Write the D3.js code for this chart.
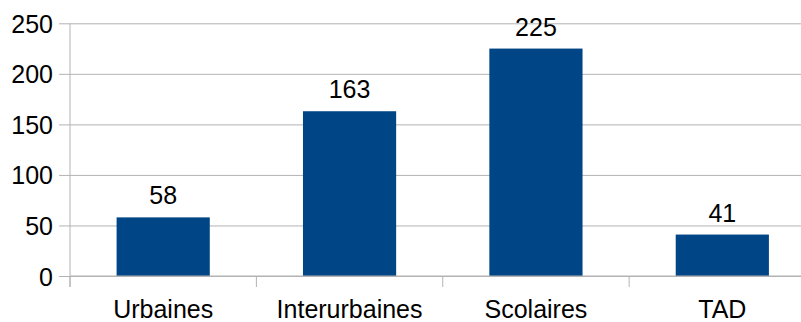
<!DOCTYPE html>
<html>
<head>
<meta charset="utf-8">
<script src="https://cdn.jsdelivr.net/npm/d3@7"></script>
<style>
  body { margin: 0; background: #fff; }
  svg { display: block; font-family: "Liberation Sans", Arial, sans-serif; }
</style>
</head>
<body>
<svg id="chart"></svg>
<script>
var width = 801;
var height = 322;

var categories = ['Urbaines', 'Interurbaines', 'Scolaires', 'TAD'];
var values = [58, 163, 225, 41];
var yTicks = [0, 50, 100, 150, 200, 250];

var plotLeft = 70, plotRight = 815.5;
var plotTop = 23.3, plotBottom = 276;
var fontSize = '25px';

var svg = d3.select('#chart')
  .attr('width', width)
  .attr('height', height);

var xScale = d3.scaleBand()
  .domain(categories)
  .range([plotLeft, plotRight])
  .paddingInner(0.5)
  .paddingOuter(0.25);

var yScale = d3.scaleLinear()
  .domain([0, 250])
  .range([plotBottom, plotTop]);

// gridlines + y axis
var yAxis = svg.append('g')
  .attr('transform', `translate(${plotLeft}, 0)`)
  .call(d3.axisLeft(yScale)
    .tickValues(yTicks)
    .tickSize(11)
    .tickSizeOuter(0));

yAxis.select('.domain').remove();
yAxis.selectAll('.tick line')
  .attr('x2', width - plotLeft)
  .attr('x1', -11)
  .attr('stroke', '#b3b3b3');
yAxis.selectAll('.tick text')
  .attr('x', -17)
  .attr('dy', '0.36em')
  .style('font-size', fontSize)
  .style('font-family', '"Liberation Sans", Arial, sans-serif')
  .style('fill', '#000');

svg.append('line')
  .attr('x1', plotLeft).attr('x2', plotLeft)
  .attr('y1', plotTop).attr('y2', plotBottom + 11)
  .attr('stroke', '#b3b3b3');

// bars
svg.selectAll('rect.bar')
  .data(values)
  .enter()
  .append('rect')
    .attr('class', 'bar')
    .attr('x', (d, i) => xScale(categories[i]))
    .attr('y', d => yScale(d))
    .attr('width', xScale.bandwidth())
    .attr('height', d => plotBottom - yScale(d))
    .attr('fill', '#004586');

// x axis
var step = xScale.step();
var xTicks = d3.range(categories.length + 1).map(i => plotLeft + i * step);
svg.append('line')
  .attr('x1', plotLeft).attr('x2', width)
  .attr('y1', plotBottom).attr('y2', plotBottom)
  .attr('stroke', '#b3b3b3');
svg.selectAll('line.xtick')
  .data(xTicks)
  .enter()
  .append('line')
    .attr('class', 'xtick')
    .attr('x1', d => d).attr('x2', d => d)
    .attr('y1', plotBottom).attr('y2', plotBottom + 11)
    .attr('stroke', '#b3b3b3');

svg.selectAll('text.cat')
  .data(categories)
  .enter()
  .append('text')
    .attr('class', 'cat')
    .attr('x', d => xScale(d) + xScale.bandwidth() / 2)
    .attr('y', 318)
    .attr('text-anchor', 'middle')
    .style('font-size', fontSize)
    .text(d => d);

// value labels
svg.selectAll('text.val')
  .data(values)
  .enter()
  .append('text')
    .attr('class', 'val')
    .attr('x', (d, i) => xScale(categories[i]) + xScale.bandwidth() / 2)
    .attr('y', d => yScale(d) - 13)
    .attr('text-anchor', 'middle')
    .style('font-size', fontSize)
    .text(d => d);
</script>
</body>
</html>
